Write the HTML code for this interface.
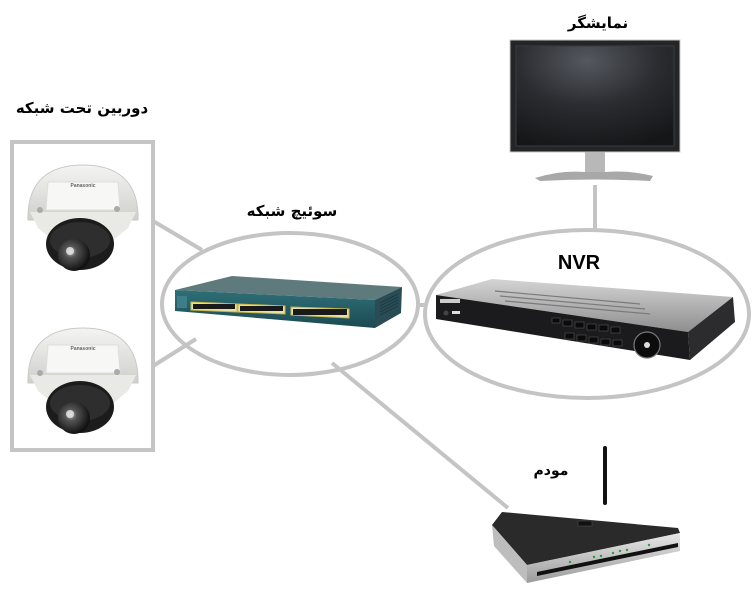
<!DOCTYPE html>
<html><head><meta charset="utf-8"><style>
html,body{margin:0;padding:0;background:#fff;}
svg{display:block;}
.fa{font-family:"DejaVu Sans","Liberation Sans",sans-serif;font-weight:bold;fill:#000;}
</style></head><body>
<svg width="756" height="600" viewBox="0 0 756 600" xmlns="http://www.w3.org/2000/svg">
<defs>
<radialGradient id="scr" cx="0.45" cy="0.15" r="0.9">
<stop offset="0" stop-color="#55585f"/><stop offset="0.5" stop-color="#2a2c30"/><stop offset="1" stop-color="#151618"/>
</radialGradient>
<linearGradient id="nvrtop" x1="0" y1="0" x2="0" y2="1">
<stop offset="0" stop-color="#d4d4d4"/><stop offset="1" stop-color="#8e8e8e"/>
</linearGradient>
<linearGradient id="swfront" x1="0" y1="0" x2="0" y2="1">
<stop offset="0" stop-color="#2f6f78"/><stop offset="1" stop-color="#1c4a52"/>
</linearGradient>
<linearGradient id="dome" x1="0" y1="0" x2="0" y2="1">
<stop offset="0" stop-color="#f4f4f2"/><stop offset="1" stop-color="#cfcfcc"/>
</linearGradient>
<radialGradient id="lens" cx="0.4" cy="0.4" r="0.6">
<stop offset="0" stop-color="#bfbfbf"/><stop offset="0.3" stop-color="#555"/><stop offset="1" stop-color="#111"/>
</radialGradient>
<linearGradient id="mfront" x1="0" y1="0" x2="0" y2="1">
<stop offset="0" stop-color="#e8e8e8"/><stop offset="1" stop-color="#9a9a9a"/>
</linearGradient>
<g id="cam">
<path d="M28,220 C27,180 50,165 83,165 C116,165 139,180 138,220 Z" fill="url(#dome)" stroke="#c9c9c6" stroke-width="1"/>
<path d="M30,212 L136,212 L128,228 L106,246 L60,246 L38,228 Z" fill="#e9e9e6"/>
<path d="M48,182 L118,182 L120,210 L46,210 Z" fill="#f7f7f5" stroke="#ddd" stroke-width="1"/>
<text x="83" y="187" font-family="Liberation Sans,sans-serif" font-size="5" font-weight="bold" fill="#666" text-anchor="middle">Panasonic</text>
<circle cx="40" cy="210" r="3" fill="#aaa"/>
<circle cx="117" cy="209" r="3" fill="#aaa"/>
<ellipse cx="80" cy="244" rx="34" ry="26" fill="#1c1c1c"/>
<ellipse cx="80" cy="240" rx="30" ry="18" fill="#2e2e2e"/>
<circle cx="74" cy="255" r="16" fill="url(#lens)"/>
<circle cx="70" cy="251" r="4" fill="#e8e8e8" opacity="0.8"/>
</g>
</defs>

<!-- connectors -->
<g stroke="#c4c4c4" stroke-width="4" fill="none">
<rect x="12" y="142" width="141" height="308"/>
<line x1="153" y1="221" x2="202" y2="250"/>
<line x1="153" y1="366" x2="196" y2="339"/>
<ellipse cx="290" cy="304" rx="128" ry="71"/>
<line x1="418" y1="305" x2="426" y2="305"/>
<ellipse cx="587" cy="314" rx="162" ry="84"/>
<line x1="595" y1="185" x2="595" y2="230"/>
<line x1="332" y1="363" x2="508" y2="508"/>
</g>

<!-- labels -->
<text class="fa" x="82" y="113" font-size="15" text-anchor="middle">دوربین تحت شبکه</text>
<text class="fa" x="292" y="216" font-size="15" text-anchor="middle">سوئیچ شبکه</text>
<text class="fa" x="598" y="28" font-size="15" text-anchor="middle">نمایشگر</text>
<text class="fa" x="551" y="475" font-size="14" text-anchor="middle">مودم</text>
<text x="579" y="269" font-family="Liberation Sans,sans-serif" font-weight="bold" font-size="20" text-anchor="middle" fill="#000">NVR</text>

<!-- cameras -->
<use href="#cam"/>
<use href="#cam" transform="translate(0,163)"/>

<!-- switch -->
<polygon points="175,290 232,276 402,287 375,300" fill="#5f7a7c"/>
<polygon points="175,290 375,300 375,328 175,311" fill="url(#swfront)"/>
<polygon points="375,300 402,287 401,313 375,328" fill="#2a4c54"/>
<g stroke="#c8b64a" stroke-width="1" fill="#e8e0a0">
<polygon points="191,302 237,304 237,312 191,310"/>
<polygon points="238,304 285,306 285,314 238,312"/>
<polygon points="291,307 349,309 349,318 291,315"/>
</g>
<g fill="#1a1a1a">
<rect x="193" y="304" width="42" height="5"/>
<rect x="240" y="306" width="43" height="5"/>
<rect x="293" y="309" width="54" height="6"/>
</g>
<rect x="177" y="296" width="10" height="12" fill="#3c7f88"/>
<g stroke="#1a3a40" stroke-width="0.8">
<line x1="380" y1="303" x2="398" y2="294"/><line x1="380" y1="306" x2="398" y2="297"/>
<line x1="380" y1="309" x2="398" y2="300"/><line x1="380" y1="312" x2="398" y2="303"/>
<line x1="380" y1="315" x2="398" y2="306"/>
</g>

<!-- NVR -->
<polygon points="436,295 492,279 733,297 688,332" fill="url(#nvrtop)"/>
<polygon points="436,295 688,332 690,360 436,319" fill="#1b1b1d"/>
<polygon points="688,332 733,297 735,322 690,360" fill="#2c2c2e"/>
<g stroke="#7a7a7a" stroke-width="1.2">
<line x1="495" y1="291" x2="640" y2="304"/>
<line x1="500" y1="296" x2="645" y2="309"/>
<line x1="505" y1="301" x2="650" y2="314"/>
</g>
<rect x="440" y="299" width="20" height="4" fill="#ccc"/>
<circle cx="446" cy="313" r="2.5" fill="#444"/>
<rect x="452" y="311" width="8" height="3" fill="#ddd"/>
<g fill="#0a0a0a" stroke="#555" stroke-width="0.6">
<rect x="552" y="318" width="8" height="5"/>
<rect x="563" y="320" width="9" height="6"/><rect x="575" y="322" width="9" height="6"/>
<rect x="587" y="324" width="9" height="6"/><rect x="599" y="325" width="9" height="6"/>
<rect x="611" y="327" width="9" height="6"/>
<rect x="565" y="333" width="9" height="6"/><rect x="577" y="335" width="9" height="6"/>
<rect x="589" y="337" width="9" height="6"/><rect x="601" y="339" width="9" height="6"/>
<rect x="613" y="340" width="9" height="6"/>
</g>
<circle cx="647" cy="345" r="13" fill="#0c0c0c" stroke="#777" stroke-width="1.2"/>
<circle cx="647" cy="345" r="3" fill="#ddd"/>

<!-- monitor -->
<rect x="510" y="40" width="170" height="112" fill="#242527" stroke="#c8c8c8" stroke-width="1"/>
<rect x="516" y="46" width="158" height="100" fill="url(#scr)" stroke="#3a3b3e" stroke-width="1"/>
<rect x="585" y="152" width="20" height="21" fill="#b8b8b8"/>
<path d="M535,178 Q560,170 585,172 L605,172 Q630,170 653,176 L650,181 Q595,178 540,181 Z" fill="#a8a8a8"/>

<!-- modem -->
<line x1="605" y1="448" x2="605" y2="503" stroke="#111" stroke-width="4" stroke-linecap="round"/>
<polygon points="502,512 678,528 680,533 527,565 492,525" fill="#2a2a2a"/>
<polygon points="527,565 680,533 680,551 527,583" fill="url(#mfront)"/>
<polygon points="492,525 527,565 527,583 494,546" fill="#bdbdbd"/>
<polygon points="537,572 678,543 678,547 537,576" fill="#111"/>
<rect x="578" y="521" width="14" height="5" fill="#111" stroke="#555" stroke-width="0.5"/>
<g fill="#2c9c3c">
<circle cx="570" cy="562" r="1.2"/><circle cx="594" cy="557" r="1.2"/><circle cx="601" cy="556" r="1.2"/>
<circle cx="613" cy="553" r="1.2"/><circle cx="620" cy="551" r="1.2"/><circle cx="627" cy="550" r="1.2"/><circle cx="649" cy="545" r="1.2"/>
</g>
</svg>
</body></html>
